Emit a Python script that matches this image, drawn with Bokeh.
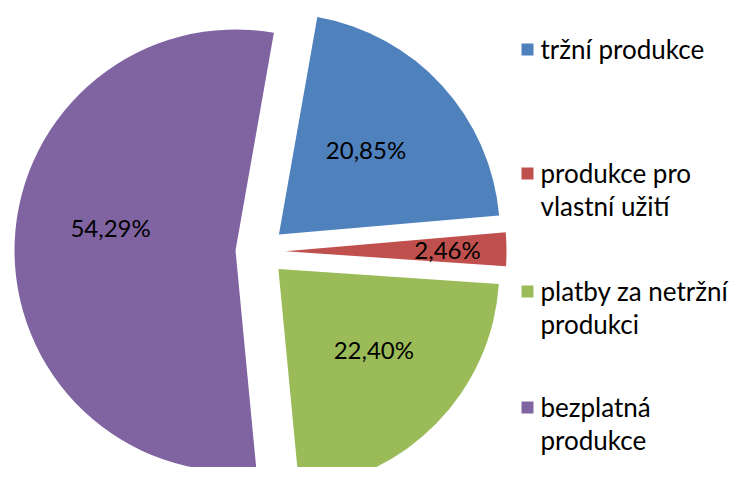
import math
from bokeh.plotting import figure
from bokeh.models import Range1d, ColumnDataSource
from bokeh.core.properties import value
from bokeh.embed import file_html
from bokeh.resources import INLINE

# ---- data ----
categories = ["tržní produkce", "produkce pro vlastní užití",
              "platby za netržní produkci", "bezplatná produkce"]
legend_lines = [["tržní produkce"], ["produkce pro", "vlastní užití"],
                ["platby za netržní", "produkci"], ["bezplatná", "produkce"]]
shares = [20.85, 2.46, 22.40, 54.29]
labels = ["20,85%", "2,46%", "22,40%", "54,29%"]
colors = ["#4F81BD", "#C0504D", "#9BBB59", "#8064A2"]

# ---- layout (pixels, y up, pie centre at origin) ----
W, H = 732, 467
CX, CY = 260, 251          # pie centre in picture pixels
R = 221
EXPLODE = 25
START_CW = 10.0            # first slice starts 10 deg clockwise from 12 o'clock
label_dist = [122, 162, 125, 127]
label_rot = [-2, 0, -4, 8]
FONT = "Lato"
FS_LAB = "24px"
FS_LEG = "26px"

p = figure(width=W, height=H, output_backend="svg", toolbar_location=None,
           x_range=Range1d(-CX, W - CX), y_range=Range1d(CY - H, CY),
           min_border=0)
p.axis.visible = False
p.grid.visible = False
p.outline_line_color = None

total = sum(shares)
cum = 0.0
wx, wy, sa, ea, lx, ly = [], [], [], [], [], []
for i, s in enumerate(shares):
    a0 = START_CW + cum / total * 360.0
    a1 = a0 + s / total * 360.0
    cum += s
    mid = math.radians((a0 + a1) / 2)
    ox, oy = EXPLODE * math.sin(mid), EXPLODE * math.cos(mid)
    wx.append(ox); wy.append(oy)
    sa.append(math.radians(90 - a1)); ea.append(math.radians(90 - a0))
    la = math.radians((a0 + a1) / 2 + label_rot[i])
    lx.append(ox + label_dist[i] * math.sin(la))
    ly.append(oy + label_dist[i] * math.cos(la))

src = ColumnDataSource(dict(x=wx, y=wy, sa=sa, ea=ea, color=colors,
                            lx=lx, ly=ly, label=labels))
p.wedge(x="x", y="y", radius=R, start_angle="sa", end_angle="ea",
        direction="anticlock", fill_color="color", line_color=None, source=src)
p.text(x="lx", y="ly", text="label", source=src, text_font=value(FONT),
       text_font_size=FS_LAB, text_align="center", text_baseline="middle",
       text_color="#000000")

# ---- legend ----
leg_first_y = [48, 172, 290, 406]   # picture pixel y of first line of each entry
LINE = 33
mx = 527 - CX
tx = 540 - CX
for i, lines in enumerate(legend_lines):
    y0 = leg_first_y[i]
    p.rect(x=[mx], y=[CY - y0 - 1], width=12, height=12,
           fill_color=colors[i], line_color=None)
    for j, t in enumerate(lines):
        p.text(x=[tx], y=[CY - (y0 + j * LINE)], text=[t], text_font=value(FONT),
               text_font_size=FS_LEG, text_align="left", text_baseline="middle",
               text_color="#000000")

open("out.html", "w").write(file_html(p, INLINE))
